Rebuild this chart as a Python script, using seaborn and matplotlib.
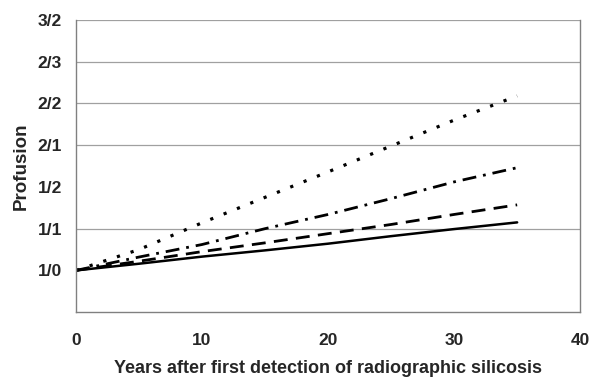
import pandas as pd
import numpy as np
import matplotlib.pyplot as plt
import seaborn as sns

# values (profusion in steps above 1/0)
years = [0, 5, 10, 15, 20, 25, 30, 35]
solid = [0, 0.16, 0.33, 0.48, 0.64, 0.82, 0.99, 1.15]
dashed = [0, 0.22, 0.45, 0.66, 0.88, 1.10, 1.34, 1.57]
dashdot = [0, 0.32, 0.62, 1.00, 1.34, 1.72, 2.12, 2.46]
dotted = [0, 0.50, 1.14, 1.75, 2.36, 2.98, 3.60, 4.18]

y_ticks = [-1, 0, 1, 2, 3, 4, 5, 6]
y_labels = ['', '1/0', '1/1', '1/2', '2/1', '2/2', '2/3', '3/2']
grid_levels = [1, 3, 4, 5, 6]
x_ticks = [0, 10, 20, 30, 40]

df = pd.DataFrame({'Years': years, 'solid': solid, 'dashed': dashed,
                   'dashdot': dashdot, 'dotted': dotted})

sns.set_style('white')
plt.rcParams['font.family'] = ['Liberation Sans', 'DejaVu Sans']

fig = plt.figure(figsize=(5.89, 3.83), dpi=100)
ax = fig.add_axes([0.129, 0.185, 0.856, 0.763])

for y in grid_levels:
    ax.axhline(y, color='#a0a0a0', lw=0.9, zorder=0)

sns.lineplot(x='Years', y='solid', data=df, color='black', lw=1.8, ax=ax)
sns.lineplot(x='Years', y='dashed', data=df, color='black', lw=2.0,
             ax=ax).lines[-1].set_dashes([5, 3])
sns.lineplot(x='Years', y='dashdot', data=df, color='black', lw=2.0,
             ax=ax).lines[-1].set_dashes([5, 2.5, 1, 2.5])
sns.lineplot(x='Years', y='dotted', data=df, color='black', lw=2.3,
             ax=ax).lines[-1].set_dashes([1, 3.5])

ax.set_xlim(0, 40)
ax.set_ylim(-1, 6)
ax.set_xticks(x_ticks)
ax.set_xticklabels([str(t) for t in x_ticks], fontsize=12.5, fontweight='bold')
ax.set_yticks(y_ticks)
ax.set_yticklabels(y_labels, fontsize=12.5, fontweight='bold')
ax.tick_params(axis='both', length=4, color='#808080', direction='out')
ax.tick_params(axis='x', pad=11)
ax.tick_params(axis='y', pad=6)

for side in ['left', 'bottom', 'right']:
    ax.spines[side].set_color('#808080')
    ax.spines[side].set_linewidth(1.0)
ax.spines['top'].set_visible(False)

ax.set_xlabel('Years after first detection of radiographic silicosis',
              fontsize=13, fontweight='bold', labelpad=9)
ax.set_ylabel('Profusion', fontsize=13.5, fontweight='bold', labelpad=6)

plt.savefig('out.png', dpi=100)
